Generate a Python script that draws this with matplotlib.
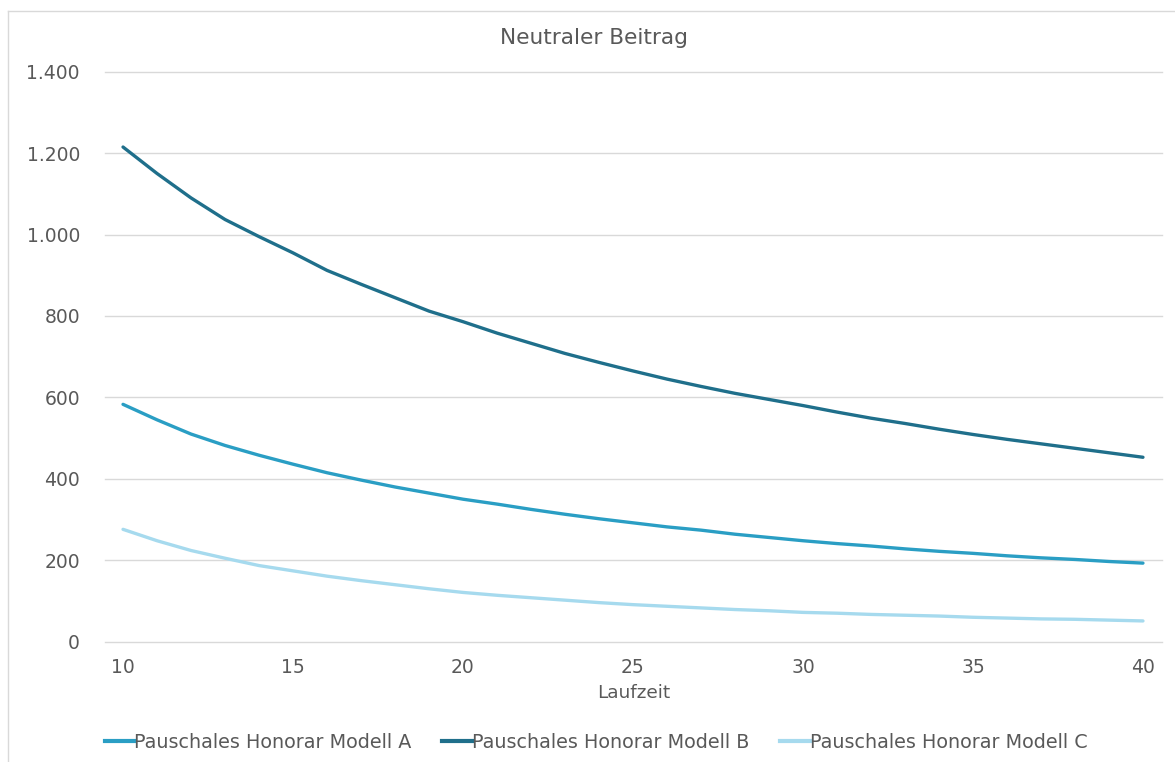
import matplotlib
matplotlib.use("Agg")
import matplotlib.pyplot as plt
from matplotlib.lines import Line2D

plt.rcParams['font.family'] = ['DejaVu Sans']

laufzeit = list(range(10, 41))
modell_a = [583, 545, 510, 482, 458, 436, 415, 397, 380, 365, 350, 338, 325, 313, 302,
            292, 282, 274, 264, 256, 248, 241, 235, 228, 222, 217, 211, 206, 202, 197, 193]
modell_b = [1215, 1150, 1090, 1037, 995, 955, 912, 878, 845, 812, 786, 758, 733, 708, 686,
            665, 645, 627, 610, 595, 580, 564, 549, 536, 522, 509, 497, 486, 475, 464, 453]
modell_c = [276, 248, 224, 205, 187, 174, 161, 150, 140, 130, 121, 114, 108, 102, 96,
            91, 87, 83, 79, 76, 72, 70, 67, 65, 63, 60, 58, 56, 55, 53, 51]

series_names = ["Pauschales Honorar Modell A", "Pauschales Honorar Modell B", "Pauschales Honorar Modell C"]
colors = ["#2A9EC4", "#1F6F8B", "#A6DAEE"]
yticks = [0, 200, 400, 600, 800, 1000, 1200, 1400]
ytick_labels = ["0", "200", "400", "600", "800", "1.000", "1.200", "1.400"]
xticks = [10, 15, 20, 25, 30, 35, 40]

W, H = 1175, 762
fig = plt.figure(figsize=(W / 100, H / 100), dpi=100)
ax = fig.add_axes([105 / W, 1 - 641.7 / H, (1162 - 105) / W, (641.7 - 71.7) / H])

text_color = "#595959"
for vals, c in zip([modell_a, modell_b, modell_c], colors):
    ax.plot(laufzeit, vals, color=c, lw=2.4, solid_capstyle="round", solid_joinstyle="round")

ax.set_xlim(9.47, 40.56)
ax.set_ylim(0, 1400)
ax.set_yticks(yticks)
ax.set_yticklabels(ytick_labels)
ax.set_xticks(xticks)
ax.grid(axis="y", color="#D9D9D9", lw=1.0)
for gl in ax.get_ygridlines():
    gl.set_clip_on(False)
ax.set_axisbelow(True)
for s in ax.spines.values():
    s.set_visible(False)
ax.tick_params(axis="both", length=0, labelsize=13.5, colors=text_color)
ax.tick_params(axis="y", pad=18)
ax.tick_params(axis="x", pad=12)
ax.set_xlabel("Laufzeit", fontsize=13.3, color=text_color, labelpad=5)

fig.text(594 / W, 1 - 38 / H, "Neutraler Beitrag", ha="center", va="center",
         fontsize=15.6, color=text_color)

handles = [Line2D([0], [0], color=c, lw=3) for c in colors]
fig.legend(handles, series_names, loc="center", bbox_to_anchor=(596 / W, 1 - 742 / H),
           ncol=3, frameon=False, fontsize=13.8, handlelength=1.55, handletextpad=0.0,
           columnspacing=1.6, labelcolor=text_color)

# chart area border (top and left edges visible)
fig.add_artist(Line2D([7.5 / W, 1], [1 - 10.5 / H, 1 - 10.5 / H], color="#D9D9D9", lw=1,
                      transform=fig.transFigure))
fig.add_artist(Line2D([7.5 / W, 7.5 / W], [0, 1 - 10.5 / H], color="#D9D9D9", lw=1,
                      transform=fig.transFigure))

fig.savefig("out.png", dpi=100)
